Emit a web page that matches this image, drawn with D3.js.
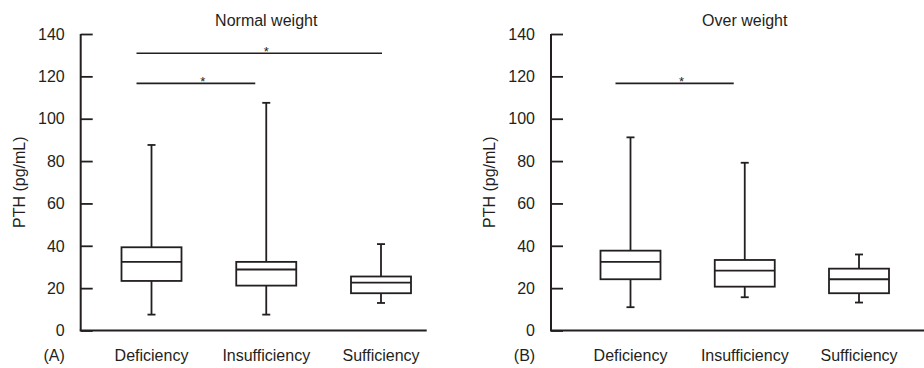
<!DOCTYPE html>
<html>
<head>
<meta charset="utf-8">
<script src="https://cdn.jsdelivr.net/npm/d3@7"></script>
<style>
  body { margin: 0; background: #fff; }
  text { font-family: "Liberation Sans", Arial, sans-serif; fill: #231f20; }
</style>
</head>
<body>
<svg width="924" height="368"></svg>
<script>
// categories and ticks
const categories = ["Deficiency", "Insufficiency", "Sufficiency"];
const yTicks = [0, 20, 40, 60, 80, 100, 120, 140];

// Normal weight (A) - box stats
const normalMin = [7.5, 7.5, 13];
const normalQ1 = [23.4, 21.2, 17.6];
const normalMedian = [32.4, 28.8, 22.6];
const normalQ3 = [39.3, 32.4, 25.5];
const normalMax = [87.6, 107.5, 40.8];
const normalSig = [
  { from: "Deficiency", to: "Insufficiency", y: 116.7 },
  { from: "Deficiency", to: "Sufficiency", y: 130.9 }
];

// Over weight (B)
const overMin = [11, 15.7, 13.2];
const overQ1 = [24.2, 20.7, 17.6];
const overMedian = [32.4, 28.3, 24.2];
const overQ3 = [37.7, 33.3, 29.2];
const overMax = [91.2, 79.2, 35.9];
const overSig = [
  { from: "Deficiency", to: "Insufficiency", y: 116.7 }
];

const SVG = d3.select("svg");
const stroke = "#231f20";

const y = d3.scaleLinear().domain([0, 140]).range([330.5, 34]);

function drawPanel(opts) {
  const g = SVG.append("g");
  const ax = opts.axisX;
  const x = d3.scalePoint().domain(categories).range([ax + opts.first, ax + opts.last]);

  const rows = categories.map((c, i) => ({
    cat: c, min: opts.min[i], q1: opts.q1[i], med: opts.med[i], q3: opts.q3[i], max: opts.max[i]
  }));

  // y axis, ticks pointing inward
  const yAxis = g.append("g")
    .attr("transform", "translate(" + ax + ",0)")
    .call(d3.axisRight(y).tickValues(yTicks).tickSize(12).tickFormat(""));
  yAxis.select(".domain").remove();
  yAxis.selectAll(".tick line").attr("stroke", stroke).attr("stroke-width", 1.8);
  g.append("line")
    .attr("x1", ax).attr("x2", ax).attr("y1", y(140)).attr("y2", y(0))
    .attr("stroke", stroke).attr("stroke-width", 2);
  g.selectAll(".ylab").data(yTicks).enter().append("text")
    .attr("x", ax - 16).attr("y", d => y(d)).attr("dy", "0.36em")
    .attr("text-anchor", "end").attr("font-size", 16)
    .text(d => d);

  // x axis line
  g.append("line")
    .attr("x1", ax - 1).attr("x2", ax + opts.axisLen).attr("y1", y(0)).attr("y2", y(0))
    .attr("stroke", stroke).attr("stroke-width", 2);

  g.selectAll(".xlab").data(categories).enter().append("text")
    .attr("x", d => x(d)).attr("y", 361)
    .attr("text-anchor", "middle").attr("font-size", 16)
    .text(d => d);

  // boxes
  const bw = 60, cap = 8;
  const box = g.selectAll(".box").data(rows).enter().append("g");
  box.append("line")
    .attr("x1", d => x(d.cat)).attr("x2", d => x(d.cat))
    .attr("y1", d => y(d.max)).attr("y2", d => y(d.min))
    .attr("stroke", stroke).attr("stroke-width", 1.8);
  box.append("line")
    .attr("x1", d => x(d.cat) - cap / 2).attr("x2", d => x(d.cat) + cap / 2)
    .attr("y1", d => y(d.max)).attr("y2", d => y(d.max))
    .attr("stroke", stroke).attr("stroke-width", 1.8);
  box.append("line")
    .attr("x1", d => x(d.cat) - cap / 2).attr("x2", d => x(d.cat) + cap / 2)
    .attr("y1", d => y(d.min)).attr("y2", d => y(d.min))
    .attr("stroke", stroke).attr("stroke-width", 1.8);
  box.append("rect")
    .attr("x", d => x(d.cat) - bw / 2).attr("width", bw)
    .attr("y", d => y(d.q3)).attr("height", d => y(d.q1) - y(d.q3))
    .attr("fill", "#fff").attr("stroke", stroke).attr("stroke-width", 1.8);
  box.append("line")
    .attr("x1", d => x(d.cat) - bw / 2).attr("x2", d => x(d.cat) + bw / 2)
    .attr("y1", d => y(d.med)).attr("y2", d => y(d.med))
    .attr("stroke", stroke).attr("stroke-width", 1.8);

  // significance bars
  const lastCat = categories[categories.length - 1];
  opts.sig.forEach(s => {
    const x1 = x(s.from) - 15;
    const x2 = s.to === lastCat ? x(s.to) + 1 : x(s.to) - 11;
    g.append("line")
      .attr("x1", x1).attr("x2", x2).attr("y1", y(s.y)).attr("y2", y(s.y))
      .attr("stroke", stroke).attr("stroke-width", 1.6);
    g.append("text")
      .attr("x", (x1 + x2) / 2 + 7).attr("y", y(s.y) + 3)
      .attr("text-anchor", "middle").attr("font-size", 13)
      .text("*");
  });

  // titles and labels
  g.append("text")
    .attr("x", x(categories[1])).attr("y", 26)
    .attr("text-anchor", "middle").attr("font-size", 16)
    .text(opts.title);
  g.append("text")
    .attr("transform", "translate(" + (ax - 56) + "," + ((y(0) + y(140)) / 2) + ") rotate(-90)")
    .attr("text-anchor", "middle").attr("font-size", 16)
    .text("PTH (pg/mL)");
  g.append("text")
    .attr("x", ax - 26.5).attr("y", 361)
    .attr("text-anchor", "middle").attr("font-size", 16)
    .text(opts.tag);
}

drawPanel({
  axisX: 80.7, first: 70.8, last: 300.3, axisLen: 346,
  min: normalMin, q1: normalQ1, med: normalMedian, q3: normalQ3, max: normalMax,
  sig: normalSig, title: "Normal weight", tag: "(A)"
});
drawPanel({
  axisX: 551, first: 79.5, last: 308, axisLen: 380,
  min: overMin, q1: overQ1, med: overMedian, q3: overQ3, max: overMax,
  sig: overSig, title: "Over weight", tag: "(B)"
});
</script>
</body>
</html>
